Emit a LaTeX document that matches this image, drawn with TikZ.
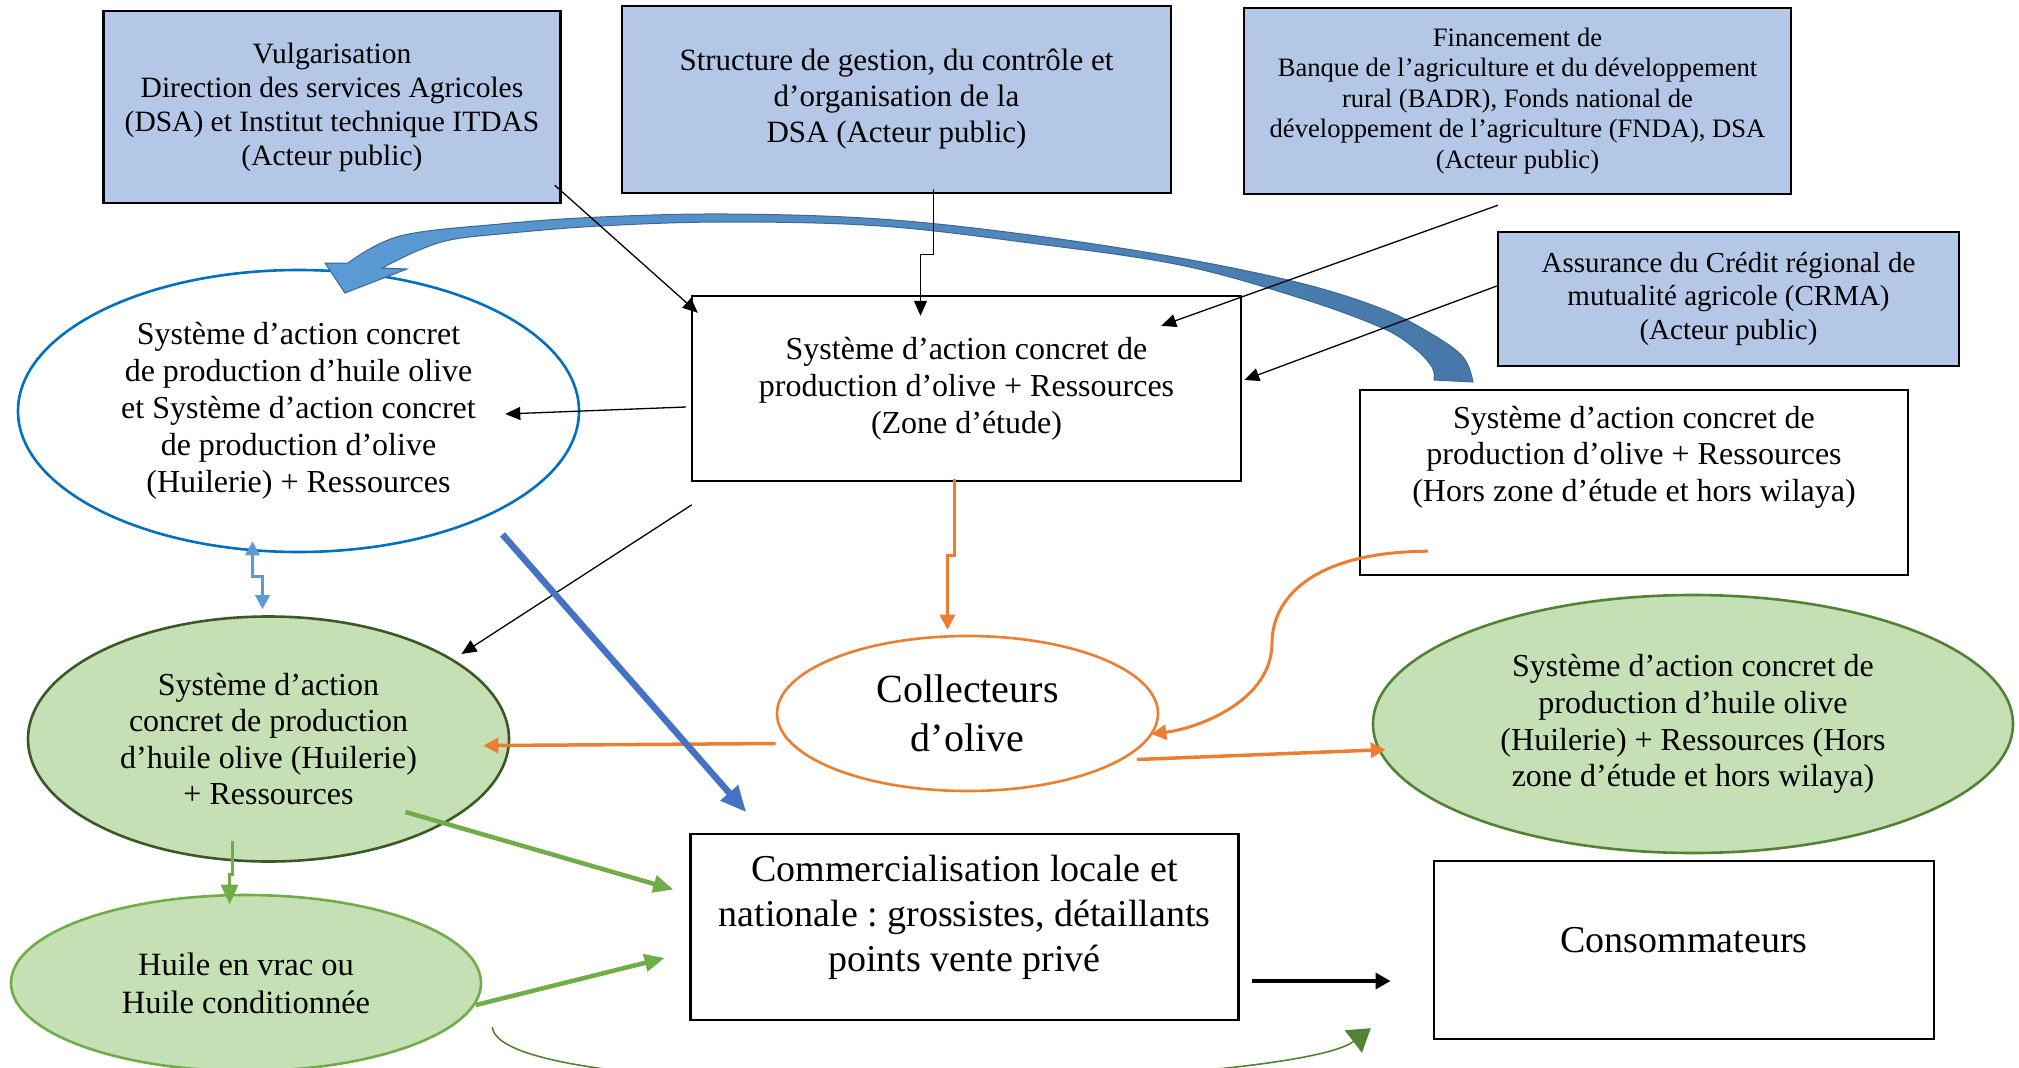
\documentclass[tikz,border=0pt]{standalone}
\usepackage{fontspec}
\setmainfont{Liberation Serif}
\frenchspacing
\usetikzlibrary{shapes.geometric, arrows.meta}
\definecolor{boxblue}{RGB}{180,199,231}
\definecolor{ovalblue}{RGB}{0,112,192}
\definecolor{oil}{RGB}{197,224,180}
\definecolor{oilline}{RGB}{59,88,38}
\definecolor{leaf}{RGB}{112,173,71}
\definecolor{darkleaf}{RGB}{84,130,53}
\definecolor{collc}{RGB}{237,125,49}
\definecolor{flowblue}{RGB}{68,114,196}
\definecolor{skyblue}{RGB}{91,155,213}
\definecolor{steel}{RGB}{70,119,168}
\definecolor{steeledge}{RGB}{60,104,150}

\begin{document}
\begin{tikzpicture}[x=1pt, y=-1pt,
    box/.style={rectangle, draw, line width=2.4pt, fill=boxblue, inner sep=0pt, align=center},
    plain/.style={rectangle, draw, line width=2.4pt, fill=white, inner sep=0pt, align=center},
    oval/.style={ellipse, line width=2.6pt, inner sep=0pt, align=center},
    link/.style={-{Triangle[length=15pt,width=13pt]}, line width=1.3pt},
    oflow/.style={-{Triangle[length=15pt,width=15pt]}, draw=collc, line width=3.5pt},
    gflow/.style={-{Triangle[length=20pt,width=17pt]}, draw=leaf, line width=4.5pt}]

    \useasboundingbox (0,0) rectangle (2019,1068);
    \clip (0,0) rectangle (2019,1068);

    \node[box, minimum width=457, minimum height=192, font=\fontsize{29.5}{34}\selectfont] (vulg) at (332,107)
        {Vulgarisation\\Direction des services Agricoles\\(DSA) et Institut technique ITDAS\\(Acteur public)};
    \node[box, minimum width=549, minimum height=187, font=\fontsize{31}{36}\selectfont] (gest) at (896.5,99.5)
        {Structure de gestion, du contrôle et\\d’organisation de la\\DSA (Acteur public)};
    \node[box, minimum width=547, minimum height=186, font=\fontsize{26.6}{30.6}\selectfont] (fin) at (1517.5,101)
        {Financement de\\Banque de l’agriculture et du développement\\rural (BADR), Fonds national de\\développement de l’agriculture (FNDA), DSA\\(Acteur public)};
    \node[box, minimum width=461, minimum height=134, font=\fontsize{29}{33.5}\selectfont] (assur) at (1728.5,299)
        {Assurance du Crédit régional de\\mutualité agricole (CRMA)\\(Acteur public)};
    \node[plain, minimum width=549, minimum height=185, font=\fontsize{32}{37}\selectfont] (zone) at (966.5,388.5)
        {Système d’action concret de\\production d’olive + Ressources\\(Zone d’étude)};
    \node[plain, minimum width=548, minimum height=185] (hors) at (1634,482.5) {};
    \node[align=center, font=\fontsize{32}{36.5}\selectfont] (hors-txt) at ([shift={(0,-25.5)}]hors.center)
        {Système d’action concret de\\production d’olive + Ressources\\(Hors zone d’étude et hors wilaya)};

    \node[oval, draw=ovalblue, fill=white, minimum width=561, minimum height=282, font=\fontsize{32}{37}\selectfont] (huilzone) at (298.5,411)
        {Système d’action concret\\de production d’huile olive\\et Système d’action concret\\de production d’olive\\(Huilerie) + Ressources};
    \node[oval, draw=oilline, fill=oil, minimum width=481, minimum height=245, font=\fontsize{32}{36.5}\selectfont] (huil) at (268.5,739)
        {Système d’action\\concret de production\\d’huile olive (Huilerie)\\+ Ressources};
    \node[oval, draw=leaf, fill=oil, minimum width=470, minimum height=176, font=\fontsize{32.5}{38}\selectfont] (vrac) at (246,983)
        {Huile en vrac ou\\Huile conditionnée};
    \node[oval, draw=collc, fill=white, minimum width=381, minimum height=155, font=\fontsize{40}{49}\selectfont] (coll) at (967.5,713.5)
        {Collecteurs\\d’olive};
    \node[oval, draw=darkleaf, fill=oil, minimum width=640, minimum height=258, font=\fontsize{32}{36.7}\selectfont] (huilhors) at (1693,724)
        {Système d’action concret de\\production d’huile olive\\(Huilerie) + Ressources (Hors\\zone d’étude et hors wilaya)};

    \node[plain, minimum width=548, minimum height=186] (comm) at (964.5,927) {};
    \node[align=center, font=\fontsize{38}{45}\selectfont] (comm-txt) at ([shift={(0,-10)}]comm.center)
        {Commercialisation locale et\\nationale : grossistes, détaillants\\points vente privé};
    \node[plain, minimum width=500, minimum height=178] (cons) at (1684,950) {};
    \node[font=\fontsize{38}{45}\selectfont] (cons-txt) at ([shift={(0,-10)}]cons.center) {Consommateurs};

    % curved block arrow from the outside system back to the oil mills
    \path[draw=steeledge, line width=1pt, left color=skyblue, middle color=steel!75!skyblue, right color=steel]
        plot[smooth, tension=0.6] coordinates {(348,263) (400,236) (500,224) (600,217) (728,214) (880,219) (1030,235)
            (1180,258) (1300,283) (1380,308) (1430,333) (1463,357) (1473,382)}
        -- plot[smooth, tension=0.6] coordinates {(1434,380) (1432,367) (1413,347) (1380,327) (1300,298) (1180,265)
            (1030,243) (880,226) (728,222) (600,226) (500,234) (450,240) (417,251) (382,268)}
        -- (407,269) -- (345,293) -- (325,263) -- cycle;

    \draw[link] ([shift={(-7,-19)}]vulg.south east) -- ([shift={(7,18)}]zone.north west);
    \draw[link] ([shift={(37,-5)}]gest.south) -- ++(0,65) -| ([shift={(-46,21)}]zone.north);
    \draw[link] ([shift={(-19.5,10)}]fin.south) -- ([shift={(-81,31)}]zone.north east);
    \draw[link] ([shift={(0,-13)}]assur.west) -- ([shift={(2,-8.5)}]zone.east);
    \draw[link] ([shift={(-5,18.5)}]zone.west) -- ([shift={(-75,3)}]huilzone.east);
    \draw[link] ([shift={(1,22.6)}]zone.south west) -- ([shift={(193,-85)}]huil.center);

    \draw[oflow] ([shift={(-12,-3)}]zone.south) -- ++(0,76.5) -| ([shift={(-20,-5)}]coll.north);
    \draw[oflow] ([shift={(0,30)}]coll.west) -- ([shift={(-27,6.6)}]huil.east);
    \draw[oflow] ([shift={(169.5,46)}]coll.center) -- ([shift={(14,25.6)}]huilhors.west);
    \coordinate (bend) at (1272,643);
    \draw[oflow, line width=3pt] ([shift={(69,-25)}]hors.south west) .. controls (1310,552) and (1272,600) .. (bend)
        .. controls (1272,700) and (1200,728) .. ([shift={(-8,20.5)}]coll.east);

    \draw[-{Triangle[length=26pt,width=22pt]}, flowblue, line width=6.5pt] ([shift={(204,123.4)}]huilzone.center) -- ([shift={(57,-20.5)}]comm.north west);
    \draw[{Triangle[length=14pt,width=14pt]}-{Triangle[length=14pt,width=14pt]}, skyblue, line width=3.5pt]
        ([shift={(-46,-12)}]huilzone.south) -- ++(0,35) -| ([shift={(-6,-6)}]huil.north);

    \draw[gflow] ([shift={(137,73)}]huil.center) -- ([shift={(-16,-37.5)}]comm.west);
    \draw[gflow, line width=3pt] ([shift={(-36.5,-22)}]huil.south) -- ++(0,33.5) -| ([shift={(-16.4,10.8)}]vrac.north);
    \draw[gflow] ([shift={(-6.5,22)}]vrac.east) -- ([shift={(-24.7,31)}]comm.west);
    \draw[-{Triangle[length=15pt,width=16pt]}, line width=3.5pt] ([shift={(12,54)}]comm.east) -- ([shift={(-42.3,31)}]cons.west);
    \draw[-{Triangle[length=22pt,width=28pt]}, darkleaf, line width=1.6pt] ([shift={(10,44)}]vrac.east)
        .. controls (500,1110) and (1290,1090) .. ([shift={(-62,-12)}]cons.south west);

\end{tikzpicture}
\end{document}
